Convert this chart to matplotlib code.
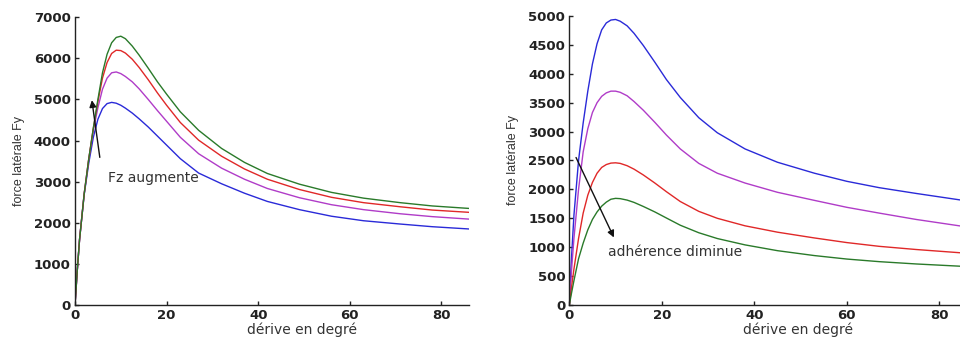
import numpy as np
import matplotlib.pyplot as plt


# left panel: Fz increases (blue -> magenta -> red -> green)
x_left = [0, 0.5, 1, 2, 3, 4, 5, 6, 7, 8, 9, 10, 11, 12.5, 14, 16, 18, 20, 23, 27,
          32, 37, 42, 49, 56, 63, 71, 78, 86]
green_left = [0, 850, 1600, 2700, 3550, 4300, 5000, 5650, 6100, 6380, 6510, 6540, 6480, 6300,
              6080, 5760, 5430, 5130, 4700, 4250, 3810, 3470, 3200, 2940, 2740, 2600, 2490,
              2410, 2350]
red_left = [0, 850, 1600, 2700, 3550, 4300, 4950, 5520, 5900, 6120, 6200, 6190, 6130, 5980,
            5780, 5480, 5160, 4860, 4440, 4010, 3620, 3310, 3060, 2810, 2620, 2490, 2390,
            2310, 2255]
magenta_left = [0, 850, 1600, 2700, 3550, 4250, 4800, 5250, 5520, 5650, 5670, 5630, 5560, 5430,
                5260, 5000, 4730, 4470, 4080, 3680, 3330, 3060, 2835, 2610, 2440, 2320, 2220,
                2150, 2090]
blue_left = [0, 850, 1600, 2680, 3450, 4080, 4520, 4780, 4900, 4930, 4910, 4860, 4790, 4670,
             4530, 4330, 4110, 3890, 3560, 3210, 2950, 2720, 2520, 2320, 2160, 2050, 1970,
             1905, 1850]

# right panel: adherence decreases (blue -> magenta -> red -> green)
x_right = [0, 0.5, 1, 2, 3, 4, 5, 6, 7, 8, 9, 10, 11, 12.5, 14, 16, 18.5, 21, 24, 28,
           32, 38, 45, 53, 60, 67, 75, 86]
blue_right = [0, 850, 1550, 2500, 3150, 3700, 4170, 4520, 4760, 4880, 4930, 4940, 4910, 4830,
              4700, 4490, 4200, 3900, 3590, 3240, 2980, 2700, 2470, 2280, 2140, 2030, 1930, 1800]
magenta_right = [0, 620, 1150, 2000, 2650, 3050, 3330, 3500, 3610, 3670, 3700, 3700, 3680, 3620,
                 3520, 3370, 3160, 2940, 2700, 2450, 2280, 2110, 1950, 1810, 1690, 1590, 1480, 1350]
red_right = [0, 320, 620, 1150, 1590, 1900, 2120, 2280, 2380, 2430, 2455, 2460, 2450, 2410,
             2350, 2250, 2110, 1960, 1790, 1620, 1500, 1370, 1260, 1160, 1080, 1015, 960, 895]
green_right = [0, 215, 420, 800, 1070, 1300, 1480, 1610, 1710, 1780, 1830, 1845, 1840, 1815,
               1775, 1705, 1610, 1505, 1380, 1250, 1150, 1040, 940, 855, 795, 750, 710, 665]

colors = {'blue': '#2a2ad8', 'magenta': '#b03cc8', 'red': '#e02828', 'green': '#2a7a2a'}

plt.rcParams['font.family'] = ['DejaVu Sans']

W, H = 960, 338
fig = plt.figure(figsize=(W / 100, H / 100), dpi=100)


def style_axes(ax, xlim, ylim, yticks, width_px):
    ax.set_xlim(*xlim)
    ax.set_ylim(*ylim)
    ax.set_xticks([0, 20, 40, 60, 80])
    ax.set_yticks(yticks)
    for side in ['top', 'right']:
        ax.spines[side].set_visible(False)
    for side in ['left', 'bottom']:
        ax.spines[side].set_linewidth(1.0)
        ax.spines[side].set_color('#222222')
    ax.tick_params(direction='in', length=3, width=1, labelsize=9.5, pad=3, colors='#222222')
    for lab in ax.get_xticklabels() + ax.get_yticklabels():
        lab.set_fontweight('bold')
    ax.set_xlabel('dérive en degré', fontsize=10, color='#333333')
    ax.xaxis.set_label_coords(0.576, -0.06)
    ax.set_ylabel('force latérale Fy', fontsize=9, color='#333333',
                  family='Liberation Sans')
    ax.yaxis.set_label_coords(-50 / width_px, 0.5)
    ax.patch.set_alpha(0)


bottom = 1 - 305 / H

# left panel
w1 = 86 * 4.58
ax1 = fig.add_axes([75 / W, bottom, w1 / W, (305 - 17.3) / H])
ax1.plot(x_left, blue_left, color=colors['blue'], lw=1.0)
ax1.plot(x_left, magenta_left, color=colors['magenta'], lw=1.0)
ax1.plot(x_left, red_left, color=colors['red'], lw=1.0)
ax1.plot(x_left, green_left, color=colors['green'], lw=1.0)
style_axes(ax1, (0, 86), (0, 7000), range(0, 7001, 1000), w1)
ax1.annotate('', xy=(3.6, 5050), xytext=(5.5, 3525),
             arrowprops=dict(arrowstyle='-|>', color='#111111', lw=1.0, mutation_scale=10))
ax1.text(7.3, 3090, 'Fz augmente', fontsize=10, color='#333333', va='center', ha='left')

# right panel
w2 = 86 * 4.625
ax2 = fig.add_axes([569.3 / W, bottom, w2 / W, (305 - 16) / H])
ax2.plot(x_right, blue_right, color=colors['blue'], lw=1.0)
ax2.plot(x_right, magenta_right, color=colors['magenta'], lw=1.0)
ax2.plot(x_right, red_right, color=colors['red'], lw=1.0)
ax2.plot(x_right, green_right, color=colors['green'], lw=1.0)
style_axes(ax2, (0, 86), (0, 5000), range(0, 5001, 500), w2)
ax2.annotate('', xy=(9.9, 1125), xytext=(1.2, 2595),
             arrowprops=dict(arrowstyle='-|>', color='#111111', lw=1.0, mutation_scale=10))
ax2.text(8.4, 922, 'adhérence diminue', fontsize=10, color='#333333', va='center', ha='left')

fig.savefig('out.png', dpi=100)
